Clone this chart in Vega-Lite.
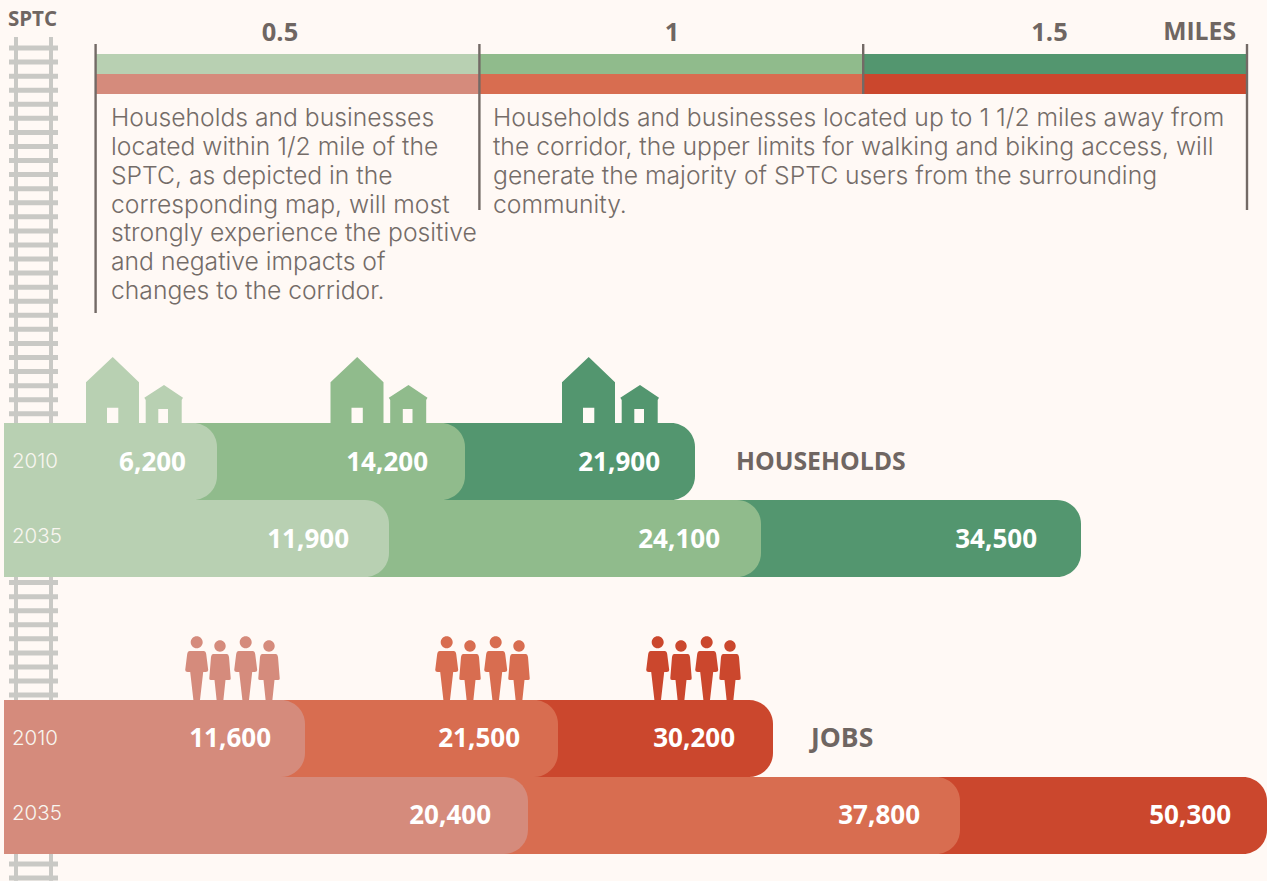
{
"$schema":"https://vega.github.io/schema/vega-lite/v6.json",
"width":1267,"height":881,"padding":0,"autosize":{"type":"none"},
"background":"#fff9f5",
"config":{"view":{"stroke":null}},
"datasets":{
"rails":[{"rail":0.143,"from":-0.78,"to":59.2},{"rail":0.857,"from":-0.78,"to":59.2}],
"ties":[{"tie":0,"a":0,"b":1},{"tie":1,"a":0,"b":1},{"tie":2,"a":0,"b":1},{"tie":3,"a":0,"b":1},{"tie":4,"a":0,"b":1},{"tie":5,"a":0,"b":1},{"tie":6,"a":0,"b":1},{"tie":7,"a":0,"b":1},{"tie":8,"a":0,"b":1},{"tie":9,"a":0,"b":1},{"tie":10,"a":0,"b":1},{"tie":11,"a":0,"b":1},{"tie":12,"a":0,"b":1},{"tie":13,"a":0,"b":1},{"tie":14,"a":0,"b":1},{"tie":15,"a":0,"b":1},{"tie":16,"a":0,"b":1},{"tie":17,"a":0,"b":1},{"tie":18,"a":0,"b":1},{"tie":19,"a":0,"b":1},{"tie":20,"a":0,"b":1},{"tie":21,"a":0,"b":1},{"tie":22,"a":0,"b":1},{"tie":23,"a":0,"b":1},{"tie":24,"a":0,"b":1},{"tie":25,"a":0,"b":1},{"tie":26,"a":0,"b":1},{"tie":27,"a":0,"b":1},{"tie":28,"a":0,"b":1},{"tie":29,"a":0,"b":1},{"tie":30,"a":0,"b":1},{"tie":31,"a":0,"b":1},{"tie":32,"a":0,"b":1},{"tie":33,"a":0,"b":1},{"tie":34,"a":0,"b":1},{"tie":35,"a":0,"b":1},{"tie":36,"a":0,"b":1},{"tie":37,"a":0,"b":1},{"tie":38,"a":0,"b":1},{"tie":39,"a":0,"b":1},{"tie":40,"a":0,"b":1},{"tie":41,"a":0,"b":1},{"tie":42,"a":0,"b":1},{"tie":43,"a":0,"b":1},{"tie":44,"a":0,"b":1},{"tie":45,"a":0,"b":1},{"tie":46,"a":0,"b":1},{"tie":47,"a":0,"b":1},{"tie":48,"a":0,"b":1},{"tie":49,"a":0,"b":1},{"tie":50,"a":0,"b":1},{"tie":51,"a":0,"b":1},{"tie":52,"a":0,"b":1},{"tie":53,"a":0,"b":1},{"tie":54,"a":0,"b":1},{"tie":55,"a":0,"b":1},{"tie":56,"a":0,"b":1},{"tie":57,"a":0,"b":1},{"tie":58,"a":0,"b":1},{"tie":59,"a":0,"b":1}],
"sptc":[{"name":"SPTC","rail":0.5,"tie":-2}],
"legendBar":[
{"from":0,"to":0.5,"measure":"Households","series":"Households 0.5"},
{"from":0.5,"to":1,"measure":"Households","series":"Households 1"},
{"from":1,"to":1.5,"measure":"Households","series":"Households 1.5"},
{"from":0,"to":0.5,"measure":"Jobs","series":"Jobs 0.5"},
{"from":0.5,"to":1,"measure":"Jobs","series":"Jobs 1"},
{"from":1,"to":1.5,"measure":"Jobs","series":"Jobs 1.5"}],
"mileTicks":[{"mile":0,"top":-1,"lines":7},{"mile":0.5,"top":-1,"lines":4},{"mile":1,"top":-1,"lines":0},{"mile":1.5,"top":-1,"lines":4}],
"mileLabels":[{"mile":0.5,"row":"Miles"},{"mile":1,"row":"Miles"},{"mile":1.5,"row":"Miles"}],
"milesTitle":[{"name":"MILES","mile":1.5,"row":"Miles"}],
"paragraphs":[
{"start":0,"line":0,"text":"Households and businesses"},
{"start":0,"line":1,"text":"located within 1/2 mile of the"},
{"start":0,"line":2,"text":"SPTC, as depicted in the"},
{"start":0,"line":3,"text":"corresponding map, will most"},
{"start":0,"line":4,"text":"strongly experience the positive"},
{"start":0,"line":5,"text":"and negative impacts of"},
{"start":0,"line":6,"text":"changes to the corridor."},
{"start":0.5,"line":0,"text":"Households and businesses located up to 1 1/2 miles away from"},
{"start":0.5,"line":1,"text":"the corridor, the upper limits for walking and biking access, will"},
{"start":0.5,"line":2,"text":"generate the majority of SPTC users from the surrounding"},
{"start":0.5,"line":3,"text":"community."}],
"households":[
{"year":"2035","distance":1.5,"value":34500,"series":"Households 1.5"},
{"year":"2035","distance":1,"value":24100,"series":"Households 1"},
{"year":"2035","distance":0.5,"value":11900,"series":"Households 0.5"},
{"year":"2010","distance":1.5,"value":21900,"series":"Households 1.5"},
{"year":"2010","distance":1,"value":14200,"series":"Households 1"},
{"year":"2010","distance":0.5,"value":6200,"series":"Households 0.5"}],
"jobs":[
{"year":"2035","distance":1.5,"value":50300,"series":"Jobs 1.5"},
{"year":"2035","distance":1,"value":37800,"series":"Jobs 1"},
{"year":"2035","distance":0.5,"value":20400,"series":"Jobs 0.5"},
{"year":"2010","distance":1.5,"value":30200,"series":"Jobs 1.5"},
{"year":"2010","distance":1,"value":21500,"series":"Jobs 1"},
{"year":"2010","distance":0.5,"value":11600,"series":"Jobs 0.5"}],
"years":[{"year":"2010","origin":0},{"year":"2035","origin":0}],
"hhTitle":[{"name":"HOUSEHOLDS","end":21900,"year":"2010"}],
"jobsTitle":[{"name":"JOBS","end":30200,"year":"2010"}],
"houses":[{"measure":"Households","distance":0.5,"series":"Households 0.5"},{"measure":"Households","distance":1,"series":"Households 1"},{"measure":"Households","distance":1.5,"series":"Households 1.5"}],
"people":[{"measure":"Jobs","distance":0.5,"series":"Jobs 0.5"},{"measure":"Jobs","distance":1,"series":"Jobs 1"},{"measure":"Jobs","distance":1.5,"series":"Jobs 1.5"}]
},
"resolve":{"scale":{"x":"independent","y":"independent"}},
"layer":[
{"data":{"name":"rails"},"mark":{"type":"rule","strokeWidth":4,"color":"#c9c9c5"},
 "encoding":{"x":{"field":"rail","type":"quantitative","axis":null,"scale":{"domain":[0,1],"range":[9,58]}},
 "y":{"field":"from","type":"quantitative","axis":null,"scale":{"domain":[0,59],"range":[48,878],"nice":false,"zero":false}},"y2":{"field":"to"}}},
{"data":{"name":"ties"},"mark":{"type":"rule","strokeWidth":5,"color":"#c9c9c5"},
 "encoding":{"x":{"field":"a","type":"quantitative","axis":null,"scale":{"domain":[0,1],"range":[9,58]}},"x2":{"field":"b"},
 "y":{"field":"tie","type":"quantitative","axis":null,"scale":{"domain":[0,59],"range":[48,878],"nice":false,"zero":false}}}},
{"data":{"name":"sptc"},"mark":{"type":"text","font":"Open Sans","fontWeight":"bold","fontSize":20.5,"color":"#6f6662","align":"center","baseline":"middle"},
 "encoding":{"text":{"field":"name"},"x":{"field":"rail","type":"quantitative","axis":null,"scale":{"domain":[0,1],"range":[8,57]}},
 "y":{"field":"tie","type":"quantitative","axis":null,"scale":{"domain":[0,59],"range":[48,878],"nice":false,"zero":false}}}},
{"data":{"name":"legendBar"},"mark":{"type":"bar","orient":"horizontal"},
 "encoding":{"x":{"field":"from","type":"quantitative","axis":null,"scale":{"domain":[0,1.5],"range":[96,1247],"nice":false}},"x2":{"field":"to"},
 "y":{"field":"measure","type":"nominal","axis":null,"scale":{"domain":["Households","Jobs"],"range":[54,94],"paddingInner":0,"paddingOuter":0}},
 "color":{"field":"series","type":"nominal","legend":null,"scale":{"domain":["Households 0.5","Households 1","Households 1.5","Jobs 0.5","Jobs 1","Jobs 1.5"],"range":["#b8d0b2","#90bb8c","#53966f","#d58b7c","#d86d50","#cb472d"]}}}},
{"data":{"name":"mileTicks"},"mark":{"type":"rule","strokeWidth":2.4,"color":"#736a66"},
 "encoding":{"x":{"field":"mile","type":"quantitative","axis":null,"scale":{"domain":[0,1.5],"range":[95.6,1247],"nice":false}},
 "y":{"field":"top","type":"quantitative","axis":null,"scale":{"domain":[-1,0,4,7],"range":[44,94,210,313],"nice":false,"zero":false}},"y2":{"field":"lines"}}},
{"data":{"name":"mileLabels"},"mark":{"type":"text","font":"Open Sans","fontWeight":"bold","fontSize":25.5,"color":"#6f6662","align":"center","baseline":"middle"},
 "encoding":{"text":{"field":"mile","type":"quantitative"},"x":{"field":"mile","type":"quantitative","axis":null,"scale":{"domain":[0.5,1,1.5],"range":[280,672,1049.5],"nice":false,"zero":false}},
 "y":{"field":"row","type":"nominal","axis":null,"scale":{"domain":["Title","Miles"],"range":[0,33],"padding":0}}}},
{"data":{"name":"milesTitle"},"mark":{"type":"text","font":"Open Sans","fontWeight":"bold","fontSize":24.7,"color":"#6f6662","align":"right","baseline":"middle","dx":-11},
 "encoding":{"text":{"field":"name"},"x":{"field":"mile","type":"quantitative","axis":null,"scale":{"domain":[0,1.5],"range":[96,1247],"nice":false}},
 "y":{"field":"row","type":"nominal","axis":null,"scale":{"domain":["Title","Miles"],"range":[0,33],"padding":0}}}},
{"data":{"name":"paragraphs"},"mark":{"type":"text","font":"Inter","fontWeight":300,"fontSize":24.7,"color":"#746c68","align":"left","baseline":"middle"},
 "encoding":{"text":{"field":"text"},"x":{"field":"start","type":"quantitative","axis":null,"scale":{"domain":[0,0.5],"range":[111,493],"nice":false}},
 "y":{"field":"line","type":"quantitative","axis":null,"scale":{"domain":[0,6],"range":[119,292],"nice":false,"zero":false}}}},
{"data":{"name":"houses"},"mark":{"type":"point","filled":true,"opacity":1,"size":4,"strokeWidth":0,"shape":"M-48.5,33L-48.5,-7.7L-21.8,-33L4.5,-7.7L4.5,33L-16.2,33L-16.2,17.7L-27.5,17.7L-27.5,33ZM11.2,33L11.2,10L9.8,7.7L29.5,-5L48.5,7.7L47.2,10L47.2,33L33.5,33L33.5,19L23.8,19L23.8,33Z"},
 "encoding":{"x":{"field":"distance","type":"quantitative","axis":null,"scale":{"domain":[0.5,1,1.5],"range":[134.5,379,610.5],"nice":false,"zero":false}},
 "y":{"field":"measure","type":"nominal","axis":null,"scale":{"domain":["Households","Jobs"],"range":[390,670],"padding":0}},
 "color":{"field":"series","type":"nominal","legend":null}}},
{"data":{"name":"people"},"mark":{"type":"point","filled":true,"opacity":1,"size":4,"strokeWidth":0,"shape":"M-42.3,-27.7A6,6 0 1 1 -30.3,-27.7A6,6 0 1 1 -42.3,-27.7ZM-43.3,-19L-29.3,-19Q-27.3,-19 -26.8,-16L-24.8,0Q-24.8,2 -27.3,2L-29.8,2L-33,30L-39.6,30L-42.8,2L-45.3,2Q-47.8,2 -47.8,0L-45.8,-16Q-45.3,-19 -43.3,-19ZM6.7,-27.7A6,6 0 1 1 18.7,-27.7A6,6 0 1 1 6.7,-27.7ZM5.7,-19L19.7,-19Q21.7,-19 22.2,-16L24.2,0Q24.2,2 21.7,2L19.2,2L16,30L9.4,30L6.2,2L3.7,2Q1.2,2 1.2,0L3.2,-16Q3.7,-19 5.7,-19ZM-18.7,-24A5.7,5.7 0 1 1 -7.3,-24A5.7,5.7 0 1 1 -18.7,-24ZM-20,-16L-6,-16Q-4.5,-16 -4,-13L-2.3,8Q-2,10 -4,10L-7.5,10L-9.6,30L-16.4,30L-18.5,10L-22,10Q-24,10 -23.7,8L-22,-13Q-21.5,-16 -20,-16ZM30.3,-24A5.7,5.7 0 1 1 41.7,-24A5.7,5.7 0 1 1 30.3,-24ZM29,-16L43,-16Q44.5,-16 45,-13L46.7,8Q47,10 45,10L41.5,10L39.4,30L32.6,30L30.5,10L27,10Q25,10 25.3,8L27,-13Q27.5,-16 29,-16Z"},
 "encoding":{"x":{"field":"distance","type":"quantitative","axis":null,"scale":{"domain":[0.5,1,1.5],"range":[233,483,694],"nice":false,"zero":false}},
 "y":{"field":"measure","type":"nominal","axis":null,"scale":{"domain":["Households","Jobs"],"range":[390,670],"padding":0}},
 "color":{"field":"series","type":"nominal","legend":null}}},
{"data":{"name":"households"},"mark":{"type":"bar","orient":"horizontal","cornerRadiusEnd":24},
 "encoding":{"x":{"field":"value","type":"quantitative","axis":null,"stack":null,"scale":{"domain":[0,6200,11900,14200,21900,24100,34500],"range":[4,217,389,465,695,761,1081],"nice":false}},
 "y":{"field":"year","type":"ordinal","axis":null,"scale":{"domain":["2010","2035"],"range":[423,577],"paddingInner":0,"paddingOuter":0}},
 "color":{"field":"series","type":"nominal","legend":null}}},
{"data":{"name":"jobs"},"mark":{"type":"bar","orient":"horizontal","cornerRadiusEnd":24},
 "encoding":{"x":{"field":"value","type":"quantitative","axis":null,"stack":null,"scale":{"domain":[0,11600,20400,21500,30200,37800,50300],"range":[4,305,528,558,773,960,1267],"nice":false}},
 "y":{"field":"year","type":"ordinal","axis":null,"scale":{"domain":["2010","2035"],"range":[700,854],"paddingInner":0,"paddingOuter":0}},
 "color":{"field":"series","type":"nominal","legend":null}}},
{"data":{"name":"households"},"mark":{"type":"text","font":"Open Sans","fontWeight":"bold","fontSize":26,"color":"#ffffff","align":"right","baseline":"middle","dy":1},
 "encoding":{"text":{"field":"value","type":"quantitative","format":","},"x":{"field":"value","type":"quantitative","axis":null,"stack":null,"scale":{"domain":[6200,11900,14200,21900,24100,34500],"range":[186,349,428,660,720,1037],"nice":false,"zero":false}},
 "y":{"field":"year","type":"ordinal","axis":null,"scale":{"domain":["2010","2035"],"range":[423,577],"paddingInner":0,"paddingOuter":0}}}},
{"data":{"name":"jobs"},"mark":{"type":"text","font":"Open Sans","fontWeight":"bold","fontSize":26,"color":"#ffffff","align":"right","baseline":"middle","dy":0.5},
 "encoding":{"text":{"field":"value","type":"quantitative","format":","},"x":{"field":"value","type":"quantitative","axis":null,"stack":null,"scale":{"domain":[11600,20400,21500,30200,37800,50300],"range":[271,491,520,735,920,1231],"nice":false,"zero":false}},
 "y":{"field":"year","type":"ordinal","axis":null,"scale":{"domain":["2010","2035"],"range":[700,854],"paddingInner":0,"paddingOuter":0}}}},
{"data":{"name":"years"},"mark":{"type":"text","font":"Inter","fontWeight":300,"fontSize":20.5,"color":"#f8f6f0","align":"left","baseline":"middle","dx":8},
 "encoding":{"text":{"field":"year"},"x":{"field":"origin","type":"quantitative","axis":null,"scale":{"domain":[0,34500],"range":[4,1081],"nice":false}},
 "y":{"field":"year","type":"ordinal","axis":null,"scale":{"domain":["2010","2035"],"range":[425,574],"paddingInner":0,"paddingOuter":0}}}},
{"data":{"name":"years"},"mark":{"type":"text","font":"Inter","fontWeight":300,"fontSize":20.5,"color":"#f8f6f0","align":"left","baseline":"middle","dx":8},
 "encoding":{"text":{"field":"year"},"x":{"field":"origin","type":"quantitative","axis":null,"scale":{"domain":[0,34500],"range":[4,1081],"nice":false}},
 "y":{"field":"year","type":"ordinal","axis":null,"scale":{"domain":["2010","2035"],"range":[701.5,851.5],"paddingInner":0,"paddingOuter":0}}}},
{"data":{"name":"hhTitle"},"mark":{"type":"text","font":"Open Sans","fontWeight":"bold","fontSize":24.8,"color":"#6f6662","align":"left","baseline":"middle","dx":41,"dy":1.5},
 "encoding":{"text":{"field":"name"},"x":{"field":"end","type":"quantitative","axis":null,"scale":{"domain":[0,6200,11900,14200,21900,24100,34500],"range":[4,217,389,465,695,761,1081],"nice":false}},
 "y":{"field":"year","type":"ordinal","axis":null,"scale":{"domain":["2010","2035"],"range":[423,577],"paddingInner":0,"paddingOuter":0}}}},
{"data":{"name":"jobsTitle"},"mark":{"type":"text","font":"Open Sans","fontWeight":"bold","fontSize":26.5,"color":"#6f6662","align":"left","baseline":"middle","dx":38},
 "encoding":{"text":{"field":"name"},"x":{"field":"end","type":"quantitative","axis":null,"scale":{"domain":[0,11600,20400,21500,30200,37800,50300],"range":[4,305,528,558,773,960,1267],"nice":false}},
 "y":{"field":"year","type":"ordinal","axis":null,"scale":{"domain":["2010","2035"],"range":[700,854],"paddingInner":0,"paddingOuter":0}}}}
]
}
